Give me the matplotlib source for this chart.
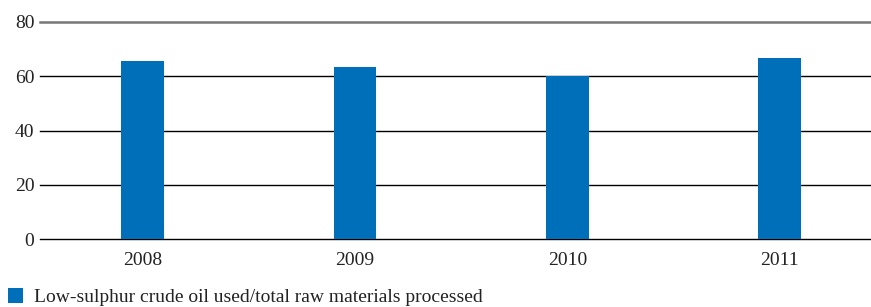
import matplotlib.pyplot as plt
from matplotlib.patches import Patch

# data
years = ['2008', '2009', '2010', '2011']
share = [65.6, 63.4, 60.0, 66.7]
legend_label = 'Low-sulphur crude oil used/total raw materials processed'
bar_color = '#006fb9'

plt.rcParams['font.family'] = ['Liberation Serif', 'DejaVu Serif']

fig = plt.figure(figsize=(8.71, 3.07), dpi=100)
ax = fig.add_axes([40 / 871, 1 - 239.2 / 307, 1 - 40 / 871, (239.2 - 22) / 307])

x = list(range(len(years)))
ax.bar(x, share, width=0.2, color=bar_color, zorder=3)

ax.set_ylim(0, 80)
ax.set_xlim(-0.483, 3.43)
ax.set_yticks([0, 20, 40, 60, 80])
ax.set_xticks(x)
ax.set_xticklabels(years)

# horizontal rules
for v in [0, 20, 40, 60]:
    ax.axhline(v, color='black', linewidth=1.0, zorder=2, clip_on=False)
ax.axhline(80, color='#777777', linewidth=1.8, zorder=1, clip_on=False)

for s in ax.spines.values():
    s.set_visible(False)
ax.tick_params(axis='both', length=0, labelsize=14, colors='#222222')
ax.tick_params(axis='y', pad=4)
ax.tick_params(axis='x', pad=9)

fig.legend(handles=[Patch(facecolor=bar_color, edgecolor='none', label=legend_label)],
           loc='lower left', bbox_to_anchor=(-0.011, -0.055), frameon=False,
           fontsize=14, handlelength=0.8, handleheight=0.8, handletextpad=0.55,
           labelcolor='#222222')

fig.savefig('out.png', dpi=100)
